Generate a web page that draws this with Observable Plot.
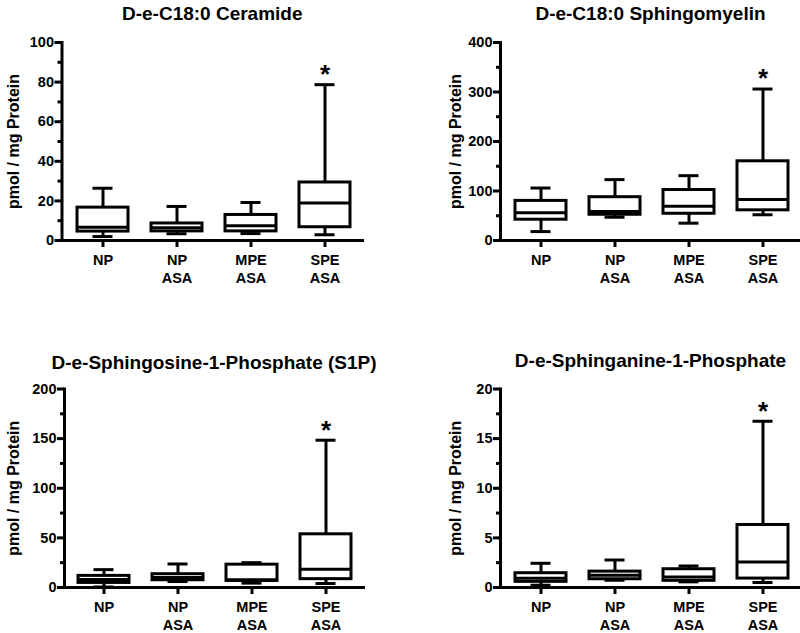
<!DOCTYPE html>
<html>
<head>
<meta charset="utf-8">
<script src="https://cdn.jsdelivr.net/npm/d3@7"></script>
<script src="https://cdn.jsdelivr.net/npm/@observablehq/plot@0.6"></script>
<style>
  html, body { margin: 0; padding: 0; background: #fff; }
  #wrap { position: relative; width: 800px; height: 633px; overflow: hidden; background: #fff; }
  .panel { position: absolute; }
  .panel svg { overflow: visible; }
</style>
</head>
<body>
<div id="wrap"></div>
<script>
// ---- Data ----
const categories = ["NP", "NP ASA", "MPE ASA", "SPE ASA"];
const yLabel = "pmol / mg Protein";
const significance = ["", "", "", "*"];

// D-e-C18:0 Ceramide
const ceramideTitle = "D-e-C18:0 Ceramide";
const ceramideMin    = [2.0, 3.4, 3.5, 2.9];
const ceramideQ1     = [4.5, 4.6, 4.6, 6.7];
const ceramideMedian = [6.7, 6.5, 7.5, 18.9];
const ceramideQ3     = [16.6, 8.6, 12.9, 29.3];
const ceramideMax    = [26.4, 17.2, 19.2, 78.7];
const ceramideTicks  = [0, 20, 40, 60, 80, 100];
const ceramideMinor  = [10, 30, 50, 70, 90];

// D-e-C18:0 Sphingomyelin
const smTitle = "D-e-C18:0 Sphingomyelin";
const smMin    = [18, 47, 35, 52];
const smQ1     = [42, 52, 54, 61];
const smMedian = [56, 58.6, 69, 83];
const smQ3     = [80, 87.5, 102, 160];
const smMax    = [106, 123, 131, 306];
const smTicks  = [0, 100, 200, 300, 400];
const smMinor  = [50, 150, 250, 350];

// D-e-Sphingosine-1-Phosphate (S1P)
const s1pTitle = "D-e-Sphingosine-1-Phosphate (S1P)";
const s1pMin    = [0.5, 6, 4.4, 4];
const s1pQ1     = [4.6, 7.3, 6.6, 8.4];
const s1pMedian = [8, 10, 7.7, 18.4];
const s1pQ3     = [11.7, 13.4, 23, 53.6];
const s1pMax    = [18, 23.7, 25, 148.4];
const s1pTicks  = [0, 50, 100, 150, 200];
const s1pMinor  = [25, 75, 125, 175];

// D-e-Sphinganine-1-Phosphate
const sa1pTitle = "D-e-Sphinganine-1-Phosphate";
const sa1pMin    = [0.23, 0.73, 0.57, 0.5];
const sa1pQ1     = [0.57, 0.83, 0.67, 0.9];
const sa1pMedian = [0.93, 1.24, 1.07, 2.58];
const sa1pQ3     = [1.44, 1.6, 1.84, 6.3];
const sa1pMax    = [2.44, 2.77, 2.17, 16.75];
const sa1pTicks  = [0, 5, 10, 15, 20];
const sa1pMinor  = [2.5, 7.5, 12.5, 17.5];

// ---- Drawing ----
const FONT = "'Liberation Sans', Arial, Helvetica, sans-serif";
const idx = categories.map((_, i) => i);

function panel(cfg) {
  const {title, min, q1, median, q3, max, ticks, minor, left, top,
         width, height, marginLeft, marginRight, marginTop, marginBottom,
         titleDy, labelDx} = cfg;
  const X = i => categories[i];
  const sw = 3;
  const plot = Plot.plot({
    width, height, marginLeft, marginRight, marginTop, marginBottom,
    style: {fontFamily: FONT, fontWeight: "bold", fontSize: "14px", color: "black", background: "white"},
    x: {type: "band", domain: categories, paddingInner: 0.31, paddingOuter: 0.17, align: 0.55},
    y: {domain: [ticks[0], ticks[ticks.length - 1]]},
    marks: [
      Plot.ruleX(idx, {x: X, y1: i => min[i], y2: i => max[i], stroke: "black", strokeWidth: sw}),
      Plot.barY(idx, {x: X, y1: i => q1[i], y2: i => q3[i], fill: "white", stroke: "black", strokeWidth: sw}),
      Plot.tickY(idx, {x: X, y: i => median[i], stroke: "black", strokeWidth: sw}),
      Plot.tickY(idx, {x: X, y: i => min[i], inset: 15.5, stroke: "black", strokeWidth: sw}),
      Plot.tickY(idx, {x: X, y: i => max[i], inset: 15.5, stroke: "black", strokeWidth: sw}),
      Plot.text(idx, {x: X, y: i => max[i], text: i => significance[i], fontSize: 26, fontWeight: "bold", dy: -10, fill: "black"}),
      Plot.axisY({ticks: minor, tickSize: 4, tickFormat: () => "", strokeWidth: sw, label: null}),
      Plot.axisY({ticks, tickSize: 7, tickPadding: 1, strokeWidth: sw, label: null, fontSize: 14.5, fontWeight: "bold", fill: "black"}),
      Plot.axisX({tickSize: 7, tickPadding: 5, strokeWidth: sw, label: null, fontSize: 14.5, fontWeight: "bold", fill: "black",
                  lineHeight: 1.25, tickFormat: d => d.split(" ").join("\n")}),
      Plot.frame({anchor: "left", stroke: "black", strokeWidth: sw, strokeLinecap: "square"}),
      Plot.frame({anchor: "bottom", stroke: "black", strokeWidth: sw, strokeLinecap: "square"}),
      Plot.text([title], {frameAnchor: "top", lineAnchor: "middle", textAnchor: "middle", dy: titleDy, fontSize: 19, fontWeight: "bold", fill: "black"}),
      Plot.text([yLabel], {frameAnchor: "left", textAnchor: "middle", lineAnchor: "middle", rotate: -90, dx: labelDx, fontSize: 16, fontWeight: "bold", fill: "black"})
    ]
  });
  const div = document.createElement("div");
  div.className = "panel";
  div.style.left = left + "px";
  div.style.top = top + "px";
  div.appendChild(plot);
  document.getElementById("wrap").appendChild(div);
}

panel({title: ceramideTitle, min: ceramideMin, q1: ceramideQ1, median: ceramideMedian, q3: ceramideQ3, max: ceramideMax,
       ticks: ceramideTicks, minor: ceramideMinor, left: 0, top: 0, width: 400, height: 300,
       marginLeft: 61.5, marginRight: 38, marginTop: 42, marginBottom: 60, titleDy: -29, labelDx: -48.5});
panel({title: smTitle, min: smMin, q1: smQ1, median: smMedian, q3: smQ3, max: smMax,
       ticks: smTicks, minor: smMinor, left: 400, top: 0, width: 400, height: 300,
       marginLeft: 100, marginRight: 0, marginTop: 42, marginBottom: 60, titleDy: -29, labelDx: -45});
panel({title: s1pTitle, min: s1pMin, q1: s1pQ1, median: s1pMedian, q3: s1pQ3, max: s1pMax,
       ticks: s1pTicks, minor: s1pMinor, left: 0, top: 330, width: 400, height: 302,
       marginLeft: 64, marginRight: 37, marginTop: 58.5, marginBottom: 45, titleDy: -26.5, labelDx: -51});
panel({title: sa1pTitle, min: sa1pMin, q1: sa1pQ1, median: sa1pMedian, q3: sa1pQ3, max: sa1pMax,
       ticks: sa1pTicks, minor: sa1pMinor, left: 400, top: 330, width: 400, height: 302,
       marginLeft: 100, marginRight: 0, marginTop: 58.5, marginBottom: 45, titleDy: -27.8, labelDx: -45});
</script>
</body>
</html>
